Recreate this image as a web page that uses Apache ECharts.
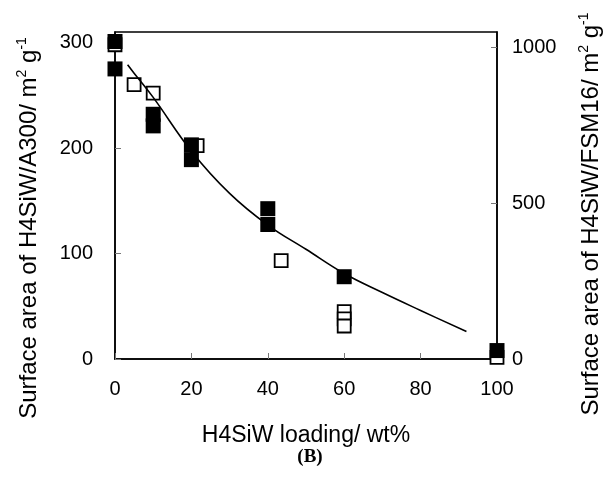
<!DOCTYPE html>
<html>
<head>
<meta charset="utf-8">
<script src="https://cdn.jsdelivr.net/npm/echarts@6/dist/echarts.min.js"></script>
<style>
  html, body { margin: 0; padding: 0; background: #fff; }
  #chart { width: 606px; height: 481px; }
</style>
</head>
<body>
<div id="chart"></div>
<script>
// H4SiW/A300 (filled squares, left axis)
const a300Loading = [0, 0, 10, 10, 20, 20, 40, 40, 60, 100]
const a300Area = [301, 275, 232, 221, 203, 189, 142.5, 127.5, 78, 8]
// H4SiW/FSM16 (open squares, right axis)
const fsm16Loading = [0, 5, 10, 21.5, 43.5, 60, 60, 60, 100]
const fsm16Area = [1009, 881, 854, 685, 316, 152, 129, 106, 5]
// fitted curve (left axis)
const fitLoading = [3.3, 5, 10, 20, 30, 40, 50, 60, 70, 80, 92]
const fitArea = [279, 271, 248, 197, 157, 127, 104, 81, 63, 46, 26]

const xTickLabels = [0, 20, 40, 60, 80, 100]
const leftTickLabels = [0, 100, 200, 300]
const rightTickLabels = [0, 500, 1000]

const font = 'Liberation Sans, Arial, sans-serif'
const zip = (xs, ys) => xs.map((x, i) => [x, ys[i]])

const chart = echarts.init(document.getElementById('chart'))

const tickStyle = { show: true, inside: true, length: 6, lineStyle: { color: '#777', width: 1 } }
const lineStyle = { color: '#000', width: 1.5 }

const titleRich = {
  t: { fontSize: 24, fontFamily: font, fill: '#000', lineHeight: 28 },
  s: { fontSize: 14, fontFamily: font, fill: '#000', verticalAlign: 'top', lineHeight: 28 }
}

const option = {
  backgroundColor: '#fff',
  animation: false,
  grid: {
    left: 115, right: 109, top: 32, bottom: 122,
    show: true, borderColor: '#000', borderWidth: 1.5
  },
  xAxis: {
    type: 'value',
    min: 0, max: 100, interval: 20,
    axisLine: { show: true, lineStyle },
    axisTick: tickStyle,
    splitLine: { show: false },
    axisLabel: {
      color: '#000', fontSize: 20, fontFamily: font, margin: 20,
      formatter: v => xTickLabels.includes(v) ? String(v) : ''
    },
    name: 'H4SiW loading/ wt%',
    nameLocation: 'middle',
    nameGap: 65,
    nameTextStyle: { color: '#000', fontSize: 23, fontFamily: font }
  },
  yAxis: [
    {
      type: 'value',
      position: 'left',
      min: 0, max: 310, interval: 100,
      axisLine: { show: true, lineStyle },
      axisTick: tickStyle,
      splitLine: { show: false },
      axisLabel: {
        color: '#000', fontSize: 20, fontFamily: font, margin: 22,
        showMaxLabel: false,
        formatter: v => leftTickLabels.includes(v) ? String(v) : ''
      }
    },
    {
      type: 'value',
      position: 'right',
      min: 0, max: 1050, interval: 500,
      axisLine: { show: true, lineStyle },
      axisTick: tickStyle,
      splitLine: { show: false },
      axisLabel: {
        color: '#000', fontSize: 20, fontFamily: font, margin: 15,
        showMaxLabel: false,
        formatter: v => rightTickLabels.includes(v) ? String(v) : ''
      }
    }
  ],
  series: [
    {
      name: 'H4SiW/FSM16',
      type: 'scatter',
      yAxisIndex: 1,
      symbol: 'rect',
      symbolSize: 13,
      itemStyle: { color: '#fff', borderColor: '#000', borderWidth: 1.8, opacity: 1 },
      data: zip(fsm16Loading, fsm16Area),
      z: 2
    },
    {
      name: 'fit',
      type: 'line',
      yAxisIndex: 0,
      smooth: 0.4,
      showSymbol: false,
      lineStyle: { color: '#000', width: 1.6 },
      data: zip(fitLoading, fitArea),
      z: 3
    },
    {
      name: 'H4SiW/A300',
      type: 'scatter',
      yAxisIndex: 0,
      symbol: 'rect',
      symbolSize: 15,
      itemStyle: { color: '#000', opacity: 1 },
      data: zip(a300Loading, a300Area),
      z: 4
    }
  ],
  graphic: [
    {
      type: 'text',
      x: 29, y: 228,
      rotation: Math.PI / 2,
      style: {
        text: '{t|Surface area of H4SiW/A300/ m}{s|2}{t| g}{s|-1}',
        align: 'center',
        verticalAlign: 'middle',
        rich: titleRich
      }
    },
    {
      type: 'text',
      x: 591, y: 214,
      rotation: Math.PI / 2,
      style: {
        text: '{t|Surface area of H4SiW/FSM16/ m}{s|2}{t| g}{s|-1}',
        align: 'center',
        verticalAlign: 'middle',
        rich: titleRich
      }
    },
    {
      type: 'text',
      x: 310, y: 457,
      style: {
        text: '(B)',
        align: 'center',
        verticalAlign: 'middle',
        font: 'bold 19px Liberation Serif, Times New Roman, serif',
        fill: '#000'
      }
    }
  ]
}

chart.setOption(option)
</script>
</body>
</html>
